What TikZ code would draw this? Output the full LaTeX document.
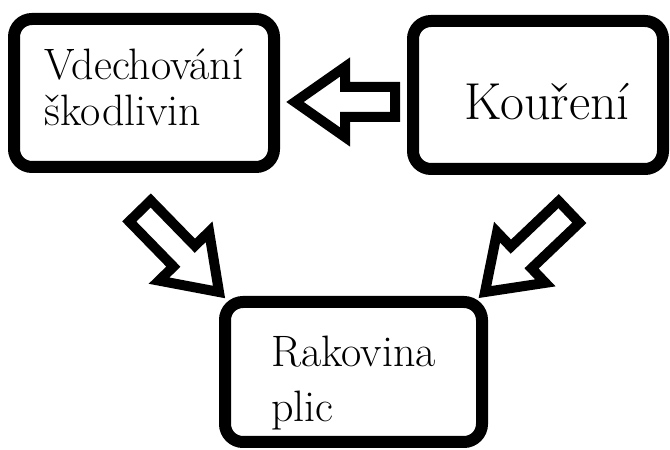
\documentclass[tikz,border=0pt]{standalone}
\usetikzlibrary{positioning,calc}

% hollow block arrow from tail #1 to tip #2
\newcommand{\hollowarrow}[2]{%
  \coordinate (hb) at ($(#2)!50pt!(#1)$);
  \draw[hollow] ($(#1)!15pt!90:(#2)$) -- ($(hb)!15pt!90:(#2)$) -- ($(hb)!35pt!90:(#2)$)
    -- (#2) -- ($(hb)!35pt!-90:(#2)$) -- ($(hb)!15pt!-90:(#2)$) -- ($(#1)!15pt!-90:(#2)$) -- cycle;
}

\begin{document}
\begin{tikzpicture}[x=1pt, y=1pt]
% Define styles
\tikzstyle{box} = [rectangle, draw, line width=12pt, rounded corners=18pt, align=left, inner sep=0pt]
\tikzstyle{hollow} = [draw, fill=white, line width=10pt, line join=miter]
\useasboundingbox (0,0) rectangle (670,450);

% Place nodes
\node [box, minimum width=260pt, minimum height=148pt, font=\fontsize{44}{46}\selectfont] (inhale) at (144,357) {Vdechování\\škodlivin\rule[-12pt]{0pt}{12pt}};
\node [box, minimum width=250pt, minimum height=148pt, font=\fontsize{52}{60}\selectfont, text height=50pt, text depth=0pt, right=127pt of inhale, yshift=-2pt] (smoke) {\hspace*{18pt}Kouření};
\node [box, minimum width=257pt, minimum height=140pt, font=\fontsize{44}{55}\selectfont, below right=123pt and -61pt of inhale] (cancer) {\rule{0pt}{52pt}Rakovina\\plic};

% Arrow ends
\coordinate (t1) at ($(smoke.west)+(-12,-7)$);
\coordinate (h1) at ($(inhale.east)+(15,-9)$);
\coordinate (t2) at ($(inhale.south)+(-4,-38)$);
\coordinate (h2) at ($(cancer.north west)+(0,4)$);
\coordinate (t3) at ($(smoke.south)+(31,-37)$);
\coordinate (h3) at ($(cancer.north east)+(-3,4)$);

% Connect nodes with arrows
\hollowarrow{t1}{h1}
\hollowarrow{t2}{h2}
\hollowarrow{t3}{h3}

\end{tikzpicture}
\end{document}
